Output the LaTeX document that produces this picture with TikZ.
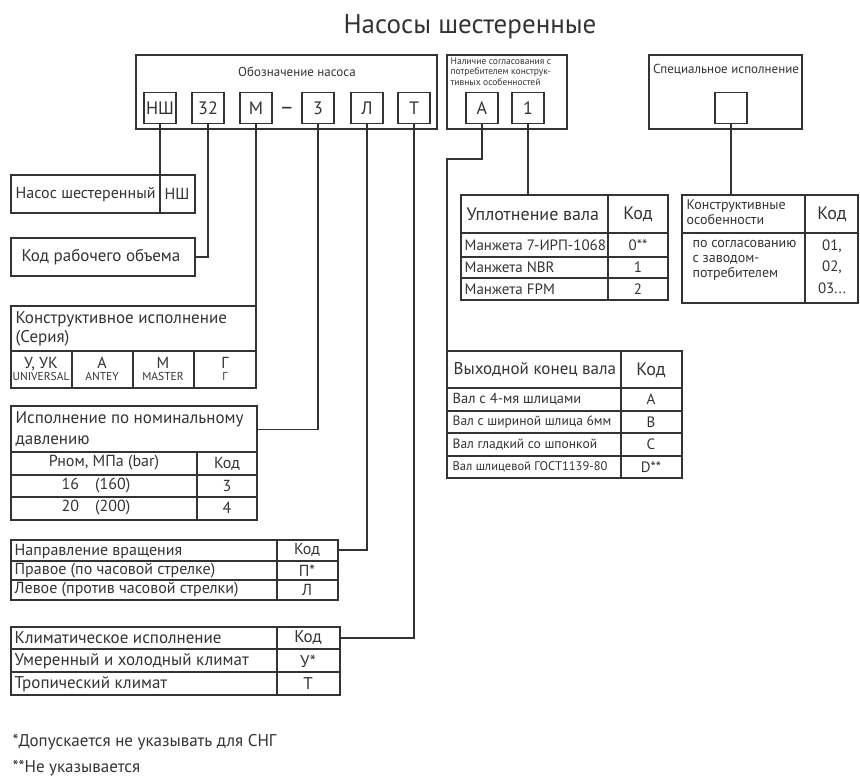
\documentclass[tikz,border=0pt]{standalone}
\usepackage{fontspec}
\setmainfont{PT Sans}
\definecolor{ink}{HTML}{333333}
\newcommand{\fsz}[1]{\fontsize{#1}{#1}\selectfont}
\begin{document}
\begin{tikzpicture}[x=1pt, y=-1pt, line width=1.3pt, color=ink,
    code/.style={draw, minimum width=32, minimum height=31, inner sep=0, font=\fsz{18}},
    tab/.style={draw, anchor=north west, inner sep=0, outer sep=0},
    cell/.style={anchor=west, inner sep=0},
    mid/.style={inner sep=0, align=center}]
\useasboundingbox (0, 0) rectangle (860, 778);
\node[font=\fsz{27}] (title) at (470, 27) {Насосы шестеренные};
\node[tab, minimum width=301, minimum height=74] (desig) at (136, 55) {};
\node[font=\fsz{13}] (desig-label) at (297, 72) {Обозначение насоса};
\node[code] (c-nsh) at (160, 108) {НШ};
\node[code] (c-vol) at (208, 108) {32};
\node[code] (c-ser) at (256, 108) {М};
\node[font=\fsz{22}] (dash) at (287, 111) {–};
\node[code] (c-pr) at (318, 108) {3};
\node[code] (c-rot) at (367, 108) {Л};
\node[code] (c-clim) at (414, 108) {Т};
\node[tab, minimum width=120, minimum height=74] (agree) at (447, 55) {};
\node[anchor=north west, inner sep=0, align=left, font=\fontsize{9.5}{10.5}\selectfont] (agree-label) at (450, 57) {Наличие согласования с\\потребителем конструк-\\тивных особенностей};
\node[code] (c-a) at (482, 108) {А};
\node[code] (c-1) at (528, 108) {1};
\node[tab, minimum width=153, minimum height=74] (special) at (649, 55) {};
\node[font=\fsz{13}] (special-label) at (726, 70) {Специальное исполнение};
\node[code] (c-sp) at (731, 108) {};
\node[tab, minimum width=184, minimum height=38] (t-nsh) at (11, 175) {};
\node[cell, font=\fsz{16}] (nsh-name) at (15, 194) {Насос шестеренный};
\node[font=\fsz{16}] (nsh-code) at (177, 194) {НШ};
\draw (c-nsh.south) -- (c-nsh |- t-nsh.south);
\node[tab, minimum width=184, minimum height=38] (t-vol) at (11, 238) {};
\node[cell, font=\fsz{17}] (vol-name) at (21, 257) {Код рабочего объема};
\draw (c-vol.south) |- (t-vol.east);
\node[tab, minimum width=245, minimum height=82] (t-ser) at (11, 306) {};
\node[anchor=north west, inner sep=0, align=left, font=\fontsize{17}{19}\selectfont] (ser-head) at (15, 311) {Конструктивное исполнение\\(Серия)};
\draw (11, 351) -- (256, 351);
\foreach \x in {72, 133, 194}
    \draw (\x, 351) -- (\x, 388);
\node[mid] (ser-u) at (41, 369) {{\fsz{16}У, УК}\\{\fsz{11.5}UNIVERSAL}};
\node[mid] (ser-a) at (102, 369) {{\fsz{16}А}\\{\fsz{11.5}ANTEY}};
\node[mid] (ser-m) at (163, 369) {{\fsz{16}М}\\{\fsz{11.5}MASTER}};
\node[mid] (ser-g) at (225, 369) {{\fsz{16}Г}\\{\fsz{11.5}Г}};
\draw (c-ser.south) -- (c-ser |- t-ser.north);
\node[tab, minimum width=246, minimum height=114] (t-pr) at (11, 406) {};
\node[anchor=north west, inner sep=0, align=left, font=\fontsize{17}{21}\selectfont] (pr-head) at (15, 411) {Исполнение по номинальному\\давлению};
\draw (11, 452) -- (257, 452);
\draw (11, 475) -- (257, 475);
\draw (11, 497) -- (257, 497);
\draw (197, 452) -- (197, 520);
\node[font=\fsz{16}] (pr-col) at (104, 463) {Рном, МПа (bar)};
\node[font=\fsz{16}] (pr-kod) at (227, 464) {Код};
\node[font=\fsz{16}] (pr-16) at (96, 486) {16\quad(160)};
\node[font=\fsz{16}] (pr-3) at (227, 486) {3};
\node[font=\fsz{16}] (pr-20) at (96, 508) {20\quad(200)};
\node[font=\fsz{16}] (pr-4) at (227, 508) {4};
\draw (c-pr.south) |- (pr-head -| t-pr.east);
\node[tab, minimum width=327, minimum height=60] (t-rot) at (11, 540) {};
\draw (11, 561) -- (338, 561);
\draw (11, 580) -- (338, 580);
\draw (277, 540) -- (277, 600);
\node[cell, font=\fsz{16}] (rot-head) at (14, 551) {Направление вращения};
\node[font=\fsz{16}] (rot-kod) at (307, 550) {Код};
\node[cell, font=\fsz{16}] (rot-r) at (14, 571) {Правое (по часовой стрелке)};
\node[font=\fsz{16}] (rot-r-code) at (307, 571) {П*};
\node[cell, font=\fsz{16}] (rot-l) at (14, 590) {Левое (против часовой стрелки)};
\node[font=\fsz{16}] (rot-l-code) at (307, 590) {Л};
\draw (c-rot.south) |- (rot-kod -| t-rot.east);
\node[tab, minimum width=329, minimum height=68] (t-clim) at (11, 627) {};
\draw (11, 649) -- (340, 649);
\draw (11, 672) -- (340, 672);
\draw (277, 627) -- (277, 695);
\node[cell, font=\fsz{17}] (clim-head) at (14, 638) {Климатическое исполнение};
\node[font=\fsz{17}] (clim-kod) at (308, 638) {Код};
\node[cell, font=\fsz{17}] (clim-m) at (14, 661) {Умеренный и холодный климат};
\node[font=\fsz{17}] (clim-m-code) at (308, 661) {У*};
\node[cell, font=\fsz{17}] (clim-t) at (14, 684) {Тропический климат};
\node[font=\fsz{17}] (clim-t-code) at (308, 684) {Т};
\draw (c-clim.south) |- (clim-kod -| t-clim.east);
\node[tab, minimum width=207, minimum height=105] (t-seal) at (461, 195) {};
\draw (461, 233) -- (668, 233);
\draw (461, 257) -- (668, 257);
\draw (461, 278) -- (668, 278);
\draw (608, 195) -- (608, 300);
\node[cell, font=\fsz{18}] (seal-head) at (466, 214) {Уплотнение вала};
\node[font=\fsz{18}] (seal-kod) at (638, 214) {Код};
\node[cell, font=\fsz{15}] (seal-1) at (464, 245) {Манжета 7-ИРП-1068};
\node[font=\fsz{15}] (seal-1-code) at (638, 245) {0**};
\node[cell, font=\fsz{15}] (seal-2) at (464, 267.5) {Манжета NBR};
\node[font=\fsz{15}] (seal-2-code) at (638, 267.5) {1};
\node[cell, font=\fsz{15}] (seal-3) at (464, 289) {Манжета FPM};
\node[font=\fsz{15}] (seal-3-code) at (638, 289) {2};
\draw (c-1.south) -- (c-1 |- t-seal.north);
\node[tab, minimum width=176, minimum height=108] (t-con) at (682, 195) {};
\draw (682, 233) -- (858, 233);
\draw (805, 195) -- (805, 303);
\node[anchor=north west, inner sep=0, align=left, font=\fontsize{14}{15}\selectfont] (con-head) at (686, 199) {Конструктивные\\особенности};
\node[font=\fsz{18}] (con-kod) at (832, 214) {Код};
\node[anchor=north west, inner sep=0, align=left, font=\fontsize{14}{15}\selectfont] (con-body) at (692, 240) {по согласованию\\с заводом-\\потребителем};
\node[anchor=north, inner sep=0, align=center, font=\fontsize{15}{21.5}\selectfont] (con-codes) at (832, 239) {01,\\02,\\03...};
\draw (c-sp.south) -- (c-sp |- t-con.north);
\node[tab, minimum width=235, minimum height=127] (t-out) at (447, 351) {};
\draw (447, 388) -- (682, 388);
\draw (447, 411) -- (682, 411);
\draw (447, 433) -- (682, 433);
\draw (447, 456) -- (682, 456);
\draw (621, 351) -- (621, 478);
\node[cell, font=\fsz{17}] (out-head) at (453, 370) {Выходной конец вала};
\node[font=\fsz{18}] (out-kod) at (651, 370) {Код};
\node[cell, font=\fsz{14.5}] (out-1) at (452, 399.5) {Вал с 4-мя шлицами};
\node[font=\fsz{15}] (out-1-code) at (651, 399.5) {A};
\node[cell, font=\fsz{13.5}] (out-2) at (452, 422) {Вал с шириной шлица 6мм};
\node[font=\fsz{15}] (out-2-code) at (651, 422) {B};
\node[cell, font=\fsz{13.5}] (out-3) at (452, 444.5) {Вал гладкий со шпонкой};
\node[font=\fsz{15}] (out-3-code) at (651, 444.5) {C};
\node[cell, font=\fsz{12.5}] (out-4) at (452, 467) {Вал шлицевой ГОСТ1139-80};
\node[font=\fsz{15}] (out-4-code) at (651, 467) {D**};
\coordinate (a-knee) at (482, 159);
\draw (c-a.south) -- (a-knee) -| (t-out.north west);
\node[cell, font=\fsz{17}] (note-1) at (12, 742) {*Допускается не указывать для СНГ};
\node[cell, font=\fsz{17}] (note-2) at (12, 768) {**Не указывается};
\end{tikzpicture}
\end{document}
